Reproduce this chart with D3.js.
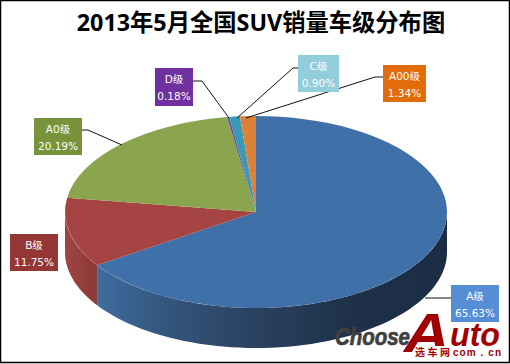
<!DOCTYPE html>
<html>
<head>
<meta charset="utf-8">
<script src="https://cdnjs.cloudflare.com/ajax/libs/d3/7.8.5/d3.min.js"></script>
<style>
  html, body { margin: 0; padding: 0; background: #fff; }
  svg { display: block; }
</style>
</head>
<body>
<div id="chart"></div>
<script>
// values, clockwise from 12 o'clock
const categories = ["A级", "B级", "A0级", "D级", "C级", "A00级"];
const shares = [65.63, 11.75, 20.19, 0.18, 0.90, 1.34];
const shareLabels = ["65.63%", "11.75%", "20.19%", "0.18%", "0.90%", "1.34%"];
const sliceColors = ["#4070a8", "#a54442", "#8ba54f", "#6f4a9c", "#3a9ab5", "#dc8138"];
const boxColors = ["#558ed5", "#943634", "#77933c", "#7030a0", "#92cddc", "#e36c0a"];

// label box [x, y, w, h] and leader line points, same order as categories
const boxes = [[451, 285, 48, 37], [10, 234, 48, 37], [34, 118, 48, 37], [155, 68, 38, 38], [298, 55, 41, 37], [383, 65, 43, 37]];
const leaders = [
  [[451, 298], [425, 298]],
  null,
  [[82, 130], [88, 130], [122, 145]],
  [[193, 81], [202, 81], [229, 118]],
  [[298, 68], [293, 68], [237, 118]],
  [[383, 77], [375, 77], [246, 118]]
];

const width = 510, height = 364;
const cx = 256, cy = 212, rx = 191, ry = 96, depth = 40;

const svg = d3.select("#chart").append("svg")
  .attr("width", width)
  .attr("height", height);

svg.append("rect").attr("width", width).attr("height", height).attr("fill", "#fff");

const defs = svg.append("defs");

// wall shading, dark on the right side of the blue wall
const blueWall = defs.append("linearGradient").attr("id", "wall0")
  .attr("gradientUnits", "userSpaceOnUse")
  .attr("x1", 97).attr("x2", 447).attr("y1", 0).attr("y2", 0);
blueWall.append("stop").attr("offset", "0").attr("stop-color", "#3f6d9f");
blueWall.append("stop").attr("offset", "0.18").attr("stop-color", "#34577f");
blueWall.append("stop").attr("offset", "0.44").attr("stop-color", "#2a4261");
blueWall.append("stop").attr("offset", "0.72").attr("stop-color", "#1e3149");
blueWall.append("stop").attr("offset", "1").attr("stop-color", "#1b2d44");

const redWall = defs.append("linearGradient").attr("id", "wall1")
  .attr("gradientUnits", "userSpaceOnUse")
  .attr("x1", 65).attr("x2", 97).attr("y1", 0).attr("y2", 0);
redWall.append("stop").attr("offset", "0").attr("stop-color", "#a04543");
redWall.append("stop").attr("offset", "1").attr("stop-color", "#8c3937");

const pie = d3.pie().sort(null).value(d => d)(shares);

const project = (a, dy) => [cx + rx * Math.sin(a), cy - ry * Math.cos(a) + dy];

// side wall: only the front half of the ellipse shows
const wallPath = function(d) {
  const a0 = Math.max(d.startAngle, Math.PI / 2);
  const a1 = Math.min(d.endAngle, Math.PI * 1.5);
  if (a1 <= a0) return null;
  const angles = d3.range(0, 61).map(i => a0 + (a1 - a0) * i / 60);
  const pts = angles.map(a => project(a, 0)).concat(angles.slice().reverse().map(a => project(a, depth)));
  return d3.line()(pts) + "Z";
};

svg.append("g").selectAll("path")
  .data(pie.filter(d => wallPath(d)))
  .join("path")
  .attr("d", wallPath)
  .attr("fill", d => `url(#wall${d.index})`);

// top faces
const arc = d3.arc().innerRadius(0).outerRadius(rx);
svg.append("g")
  .attr("transform", `translate(${cx},${cy}) scale(1,${ry / rx})`)
  .selectAll("path")
  .data(pie)
  .join("path")
  .attr("d", arc)
  .attr("fill", (d, i) => sliceColors[i]);

// leader lines
svg.append("g").selectAll("path")
  .data(leaders.filter(d => d))
  .join("path")
  .attr("d", d3.line())
  .attr("fill", "none")
  .attr("stroke", "#111")
  .attr("stroke-width", 1);

// label boxes
const labels = svg.append("g").selectAll("g")
  .data(categories)
  .join("g")
  .attr("transform", (d, i) => `translate(${boxes[i][0]},${boxes[i][1]})`);

labels.append("rect")
  .attr("width", (d, i) => boxes[i][2])
  .attr("height", (d, i) => boxes[i][3])
  .attr("fill", (d, i) => boxColors[i]);

labels.append("text")
  .attr("x", (d, i) => boxes[i][2] / 2)
  .attr("y", 15)
  .attr("text-anchor", "middle")
  .attr("fill", "#fff")
  .style("font-family", "'DejaVu Sans', 'Noto Sans CJK SC'")
  .style("font-size", "10.5px")
  .text(d => d);

labels.append("text")
  .attr("x", (d, i) => boxes[i][2] / 2)
  .attr("y", 32)
  .attr("text-anchor", "middle")
  .attr("fill", "#fff")
  .style("font-family", "'DejaVu Sans', 'Noto Sans CJK SC'")
  .style("font-size", "10.5px")
  .text((d, i) => shareLabels[i]);

// title
svg.append("text")
  .attr("x", 261)
  .attr("y", 31)
  .attr("text-anchor", "middle")
  .attr("fill", "#000")
  .style("font-family", "'Open Sans', 'Noto Sans CJK SC'")
  .style("font-weight", "700")
  .style("font-size", "23.3px")
  .text("2013年5月全国SUV销量车级分布图");

// watermark
svg.append("text")
  .attr("x", 335).attr("y", 345)
  .attr("fill", "#404040")
  .attr("stroke", "#404040")
  .attr("stroke-width", 0.7)
  .attr("textLength", 75)
  .attr("lengthAdjust", "spacingAndGlyphs")
  .style("font-family", "'Liberation Sans'")
  .style("font-weight", "700")
  .style("font-style", "italic")
  .style("font-size", "23px")
  .text("Choose");

svg.append("text")
  .attr("x", 404).attr("y", 352)
  .attr("fill", "#a00000")
  .attr("textLength", 46)
  .attr("lengthAdjust", "spacingAndGlyphs")
  .style("font-family", "'Liberation Sans'")
  .style("font-weight", "700")
  .style("font-style", "italic")
  .style("font-size", "55px")
  .text("A");

svg.append("text")
  .attr("x", 450).attr("y", 346)
  .attr("fill", "#a00000")
  .attr("textLength", 50)
  .attr("lengthAdjust", "spacingAndGlyphs")
  .style("font-family", "'Liberation Sans'")
  .style("font-weight", "700")
  .style("font-style", "italic")
  .style("font-size", "33px")
  .text("uto");

// white strip under the A, the small caption sits on it
svg.append("rect")
  .attr("x", 416).attr("y", 346)
  .attr("width", 90).attr("height", 12)
  .attr("fill", "#fff");

svg.append("text")
  .attr("x", 415).attr("y", 356)
  .attr("fill", "#a00000")
  .attr("textLength", 35)
  .style("font-family", "'Noto Sans CJK SC'")
  .style("font-weight", "700")
  .style("font-size", "10px")
  .text("选车网");

svg.append("text")
  .attr("x", 453).attr("y", 355.5)
  .attr("fill", "#a00000")
  .attr("textLength", 48)
  .style("font-family", "'Liberation Sans'")
  .style("font-weight", "700")
  .style("font-size", "10px")
  .text("com . cn");

// outer frame
svg.append("rect")
  .attr("x", 0.5).attr("y", 0.5)
  .attr("width", width - 1).attr("height", height - 2)
  .attr("fill", "none")
  .attr("stroke", "#000")
  .attr("stroke-width", 1.5);
</script>
</body>
</html>
